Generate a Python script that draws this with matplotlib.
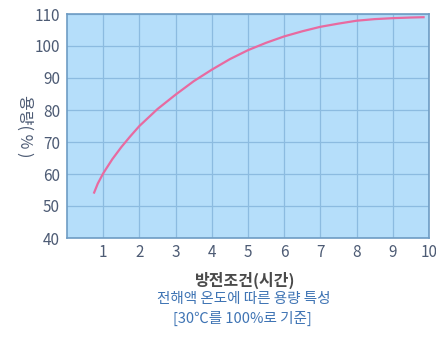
import matplotlib
matplotlib.use("Agg")
import matplotlib.pyplot as plt

plt.rcParams['font.family'] = ['Noto Sans CJK KR', 'DejaVu Sans']

# values
hours = [0.75, 0.85, 1.0, 1.25, 1.5, 1.75, 2.0, 2.5, 3.0, 3.5, 4.0, 4.5, 5.0, 5.5,
         6.0, 6.5, 7.0, 7.5, 8.0, 8.5, 9.0, 9.5, 9.85]
capacity = [54.2, 57.0, 60.2, 64.6, 68.4, 71.8, 75.0, 80.3, 84.8, 89.0, 92.6, 95.9,
            98.7, 101.0, 103.0, 104.6, 106.0, 107.0, 107.9, 108.4, 108.7, 108.9, 109.0]
x_ticks = [1, 2, 3, 4, 5, 6, 7, 8, 9, 10]
y_ticks = [40, 50, 60, 70, 80, 90, 100, 110]

fig = plt.figure(figsize=(4.36, 3.38), dpi=100)
ax = fig.add_axes([67 / 436, 1 - 238 / 338, 362 / 436, 224 / 338])
ax.set_facecolor('#b5defa')

ax.plot(hours, capacity, color='#e86aa0', lw=1.6, zorder=3)

ax.set_xlim(0, 10)
ax.set_ylim(40, 110)
ax.set_xticks(x_ticks)
ax.set_yticks(y_ticks)
ax.grid(True, color='#8cbbe0', lw=0.9)
ax.set_axisbelow(True)
for s in ax.spines.values():
    s.set_color('#6e9cc4')
    s.set_linewidth(1.2)
ax.tick_params(length=0, labelsize=11, labelcolor='#4d5b74', pad=5)
ax.tick_params(axis='x', pad=4)

ax.set_ylabel('용량( % )', rotation=270, color='#4d5b74', fontsize=11.5)
ax.yaxis.set_label_coords(-0.14, 0.5)

fig.text(0.563, 1 - 280 / 338, '방전조건(시간)', ha='center', va='center',
         fontsize=11.5, fontweight='bold', color='#4a4a4a')
fig.text(0.56, 1 - 299 / 338, '전해액 온도에 따른 용량 특성', ha='center', va='center',
         fontsize=10.5, color='#3f74b4')
fig.text(0.556, 1 - 318 / 338, '[30℃를 100%로 기준]', ha='center', va='center',
         fontsize=10.5, color='#3f74b4')

fig.savefig('out.png', dpi=100)
